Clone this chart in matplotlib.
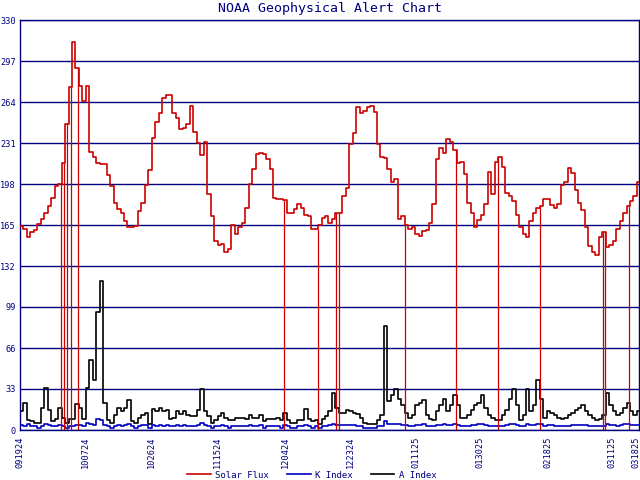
import numpy as np
import matplotlib
matplotlib.use("Agg")
import matplotlib.pyplot as plt

# ---------------- data (daily samples) ----------------
solar_flux = [
    164, 162, 155, 159, 161, 166, 170, 175, 180, 187,
    196, 198, 215, 246, 276, 312, 291, 277, 265, 277,
    224, 220, 215, 214, 214, 205, 196, 183, 178, 175,
    168, 163, 163, 164, 176, 183, 197, 209, 235, 248,
    255, 267, 270, 270, 255, 251, 242, 243, 246, 261,
    240, 231, 221, 232, 190, 172, 152, 149, 150, 143,
    146, 165, 158, 163, 167, 179, 198, 210, 222, 223,
    222, 218, 210, 187, 186, 186, 185, 175, 175, 178,
    182, 179, 173, 172, 162, 162, 165, 171, 172, 167,
    170, 175, 175, 188, 195, 230, 239, 260, 255, 257,
    260, 261, 256, 230, 220, 219, 210, 200, 202, 170,
    172, 165, 162, 163, 158, 156, 160, 161, 167, 182,
    218, 227, 223, 234, 232, 225, 215, 216, 206, 183,
    175, 163, 169, 173, 182, 208, 190, 216, 220, 212,
    191, 188, 184, 173, 163, 158, 155, 168, 175, 179,
    180, 186, 186, 181, 179, 182, 197, 200, 211, 207,
    193, 183, 177, 163, 148, 143, 141, 155, 159, 147,
    149, 152, 162, 168, 175, 180, 184, 188, 200,
]
# short data gaps in the solar flux record (day position, value)
flux_gap_day = [11.7, 12.8, 13.7, 14.7, 16.8, 76.1, 85.9, 91.1, 91.9,
                111.2, 125.8, 138.0, 150.1, 168.2, 168.8, 175.8]
flux_gap_val = [0] * len(flux_gap_day)

a_index = [
    15, 22, 8, 7, 6, 6, 18, 34, 16, 7,
    9, 18, 10, 6, 9, 9, 21, 18, 9, 34,
    56, 40, 95, 120, 22, 8, 6, 12, 18, 15,
    18, 24, 7, 6, 10, 12, 14, 5, 17, 15,
    18, 15, 16, 9, 10, 15, 13, 15, 12, 11,
    11, 16, 33, 15, 11, 6, 8, 11, 14, 10,
    8, 8, 10, 10, 10, 9, 12, 10, 10, 12,
    7, 9, 9, 9, 10, 8, 14, 8, 6, 6,
    8, 8, 17, 9, 7, 8, 5, 9, 11, 15,
    30, 18, 14, 14, 16, 15, 14, 13, 10, 6,
    5, 5, 5, 8, 12, 84, 23, 28, 33, 25,
    20, 14, 10, 12, 20, 22, 24, 12, 9, 8,
    15, 20, 25, 15, 20, 28, 20, 10, 10, 12,
    16, 20, 22, 28, 18, 12, 10, 8, 8, 12,
    16, 25, 33, 20, 8, 12, 33, 15, 20, 40,
    25, 10, 15, 14, 12, 10, 9, 10, 12, 14,
    16, 18, 20, 15, 12, 10, 8, 9, 12, 30,
    20, 15, 12, 14, 18, 22, 15, 12, 15,
]

k_index = [
    4, 3, 5, 3, 3, 2, 3, 5, 4, 3,
    3, 4, 3, 2, 3, 3, 4, 4, 3, 6,
    5, 4, 9, 8, 4, 3, 2, 3, 4, 3,
    4, 5, 3, 2, 3, 4, 4, 2, 4, 3,
    4, 3, 4, 3, 3, 4, 3, 4, 3, 3,
    3, 4, 6, 4, 3, 2, 3, 3, 4, 3,
    2, 3, 3, 3, 3, 3, 4, 3, 3, 4,
    2, 3, 3, 3, 3, 2, 4, 3, 2, 2,
    3, 3, 4, 3, 2, 3, 2, 3, 3, 4,
    5, 4, 4, 4, 4, 4, 4, 3, 3, 2,
    2, 2, 2, 3, 3, 7, 5, 5, 5, 5,
    4, 4, 3, 3, 4, 4, 5, 3, 3, 3,
    4, 4, 5, 4, 4, 5, 4, 3, 3, 3,
    4, 4, 5, 5, 4, 3, 3, 3, 3, 3,
    4, 5, 5, 4, 3, 3, 5, 4, 4, 5,
    5, 3, 4, 4, 3, 3, 3, 3, 3, 4,
    4, 4, 4, 4, 3, 3, 3, 3, 3, 5,
    4, 4, 3, 4, 5, 5, 4, 4, 4,
]

tick_labels = ["091924", "100724", "102624", "111524", "120424", "122324",
               "011125", "013025", "021825", "031125", "031825"]
tick_pos = [0, 19, 38, 57.1, 76.5, 95.3, 114.4, 132.8, 152.2, 170.8, 177.8]

y_ticks = list(range(0, 331, 33))

# ---------------- drawing ----------------
NAVY = "#000080"
plt.rcParams["font.family"] = ["DejaVu Sans Mono"]

fig = plt.figure(figsize=(6.4, 4.8), dpi=100)
ax = fig.add_axes([20 / 640, 50 / 480, 619 / 640, 410 / 480])

n = len(solar_flux)
days = np.arange(n + 1)

def stepped(vals):
    return np.append(vals, vals[-1])

ax.plot(days, stepped(a_index), drawstyle="steps-post", color="black",
        lw=1.2, zorder=2, label="A Index")
ax.plot(days, stepped(k_index), drawstyle="steps-post", color="#0000C0",
        lw=1.2, zorder=3, label="K Index")
ax.plot(days, stepped(solar_flux), drawstyle="steps-post", color="#CC0000",
        lw=1.2, zorder=4, label="Solar Flux")
flux_arr = np.array(solar_flux)
gap_top = flux_arr[np.floor(flux_gap_day).astype(int)]
ax.vlines(flux_gap_day, flux_gap_val, gap_top, color="#CC0000", lw=0.9, zorder=4)

ax.set_xlim(0, 178.6)
ax.set_ylim(0, 330)
ax.set_yticks(y_ticks)
ax.set_yticklabels([str(v) for v in y_ticks])
ax.set_xticks(tick_pos)
ax.set_xticklabels(tick_labels, rotation=90)
ax.tick_params(axis="both", length=0, labelsize=6.2, labelcolor=NAVY)
ax.tick_params(axis="y", pad=3)
ax.tick_params(axis="x", pad=5)
ax.grid(axis="y", color=NAVY, lw=1.0, zorder=1)
ax.grid(axis="x", visible=False)
ax.set_axisbelow(True)
for side in ["left", "bottom", "right", "top"]:
    ax.spines[side].set_color(NAVY)
    ax.spines[side].set_linewidth(1.0)

fig.text(0.515, 0.983, "NOAA Geophysical Alert Chart", ha="center", va="center",
         color=NAVY, fontsize=9.5)

handles, labels = ax.get_legend_handles_labels()
order = [2, 1, 0]
leg = fig.legend([handles[i] for i in order], [labels[i] for i in order],
                 loc="center", bbox_to_anchor=(312 / 640, 5 / 480), ncol=3,
                 frameon=False, fontsize=6.5, handlelength=2.6,
                 handletextpad=0.5, columnspacing=2.0)
for t in leg.get_texts():
    t.set_color(NAVY)

fig.savefig("out.png", dpi=100)
